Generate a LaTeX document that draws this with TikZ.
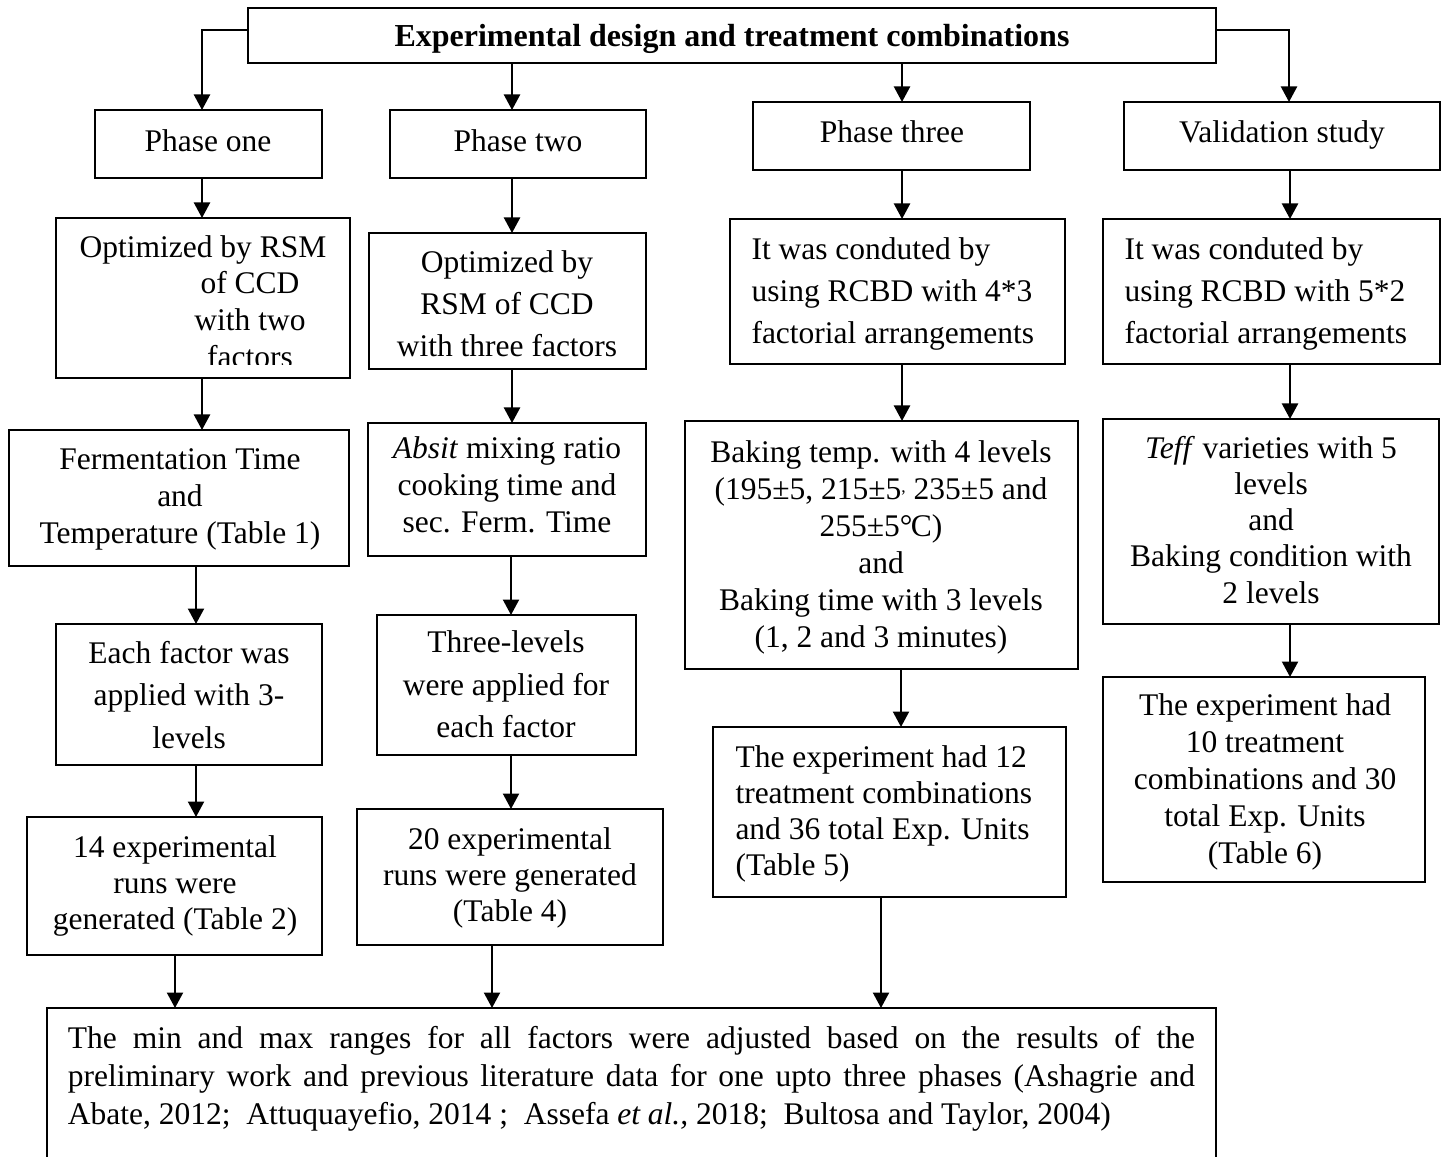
\documentclass[tikz,border=0pt]{standalone}
\usepackage{fontspec}
\setmainfont{Liberation Serif}
\usetikzlibrary{arrows.meta}
\newcommand\flowbox[5]{\node[box,minimum width={(#4-#2)*0.4pt},minimum height={(#5-#3)*0.4pt}] (#1) at (#2,#3) {};}
\begin{document}
\begin{tikzpicture}[x=0.4pt,y=-0.4pt,
  box/.style={draw,line width=0.8pt,inner sep=0pt,outer sep=0pt,anchor=north west},
  txt/.style={font=\fontsize{12.6}{14.8}\selectfont,align=center,inner sep=0pt},
  txtw/.style={font=\fontsize{12.6}{16.8}\selectfont,align=center,inner sep=0pt},
  arr/.style={line width=0.9pt,-{Triangle[length=6.2pt,width=6.4pt]}}]
\useasboundingbox (0,0) rectangle (1444,1157);
\clip (0,0) rectangle (1444,1157);
\fill[white] (0,0) rectangle (1444,1157);
% boxes
\flowbox{t}{248}{8}{1216}{63}
\flowbox{p1}{95}{110}{322}{178}
\flowbox{p2}{390}{110}{646}{178}
\flowbox{p3}{753}{102}{1030}{170}
\flowbox{pv}{1124}{102}{1440}{170}
\flowbox{o1}{56}{218}{350}{378}
\flowbox{o2}{369}{233}{646}{369}
\flowbox{q3}{730}{219}{1065}{364}
\flowbox{qv}{1103}{219}{1440}{364}
\flowbox{f1}{9}{430}{349}{566}
\flowbox{f2}{368}{423}{646}{556}
\flowbox{f3}{685}{421}{1078}{669}
\flowbox{fv}{1103}{419}{1439}{624}
\flowbox{e1}{56}{624}{322}{765}
\flowbox{e2}{377}{615}{636}{755}
\flowbox{e3}{713}{727}{1066}{897}
\flowbox{ev}{1103}{677}{1425}{882}
\flowbox{r1}{27}{817}{322}{955}
\flowbox{r2}{357}{809}{663}{945}
\flowbox{B}{47}{1008}{1216}{1180}
% texts
\node[txt,anchor=base,font={\fontsize{12.8}{15}\selectfont\bfseries}] (tt) at (732,47) {Experimental design and treatment combinations};
\node[txt,anchor=base] (p1t) at (208,152) {Phase one};
\node[txt,anchor=base] (p2t) at (518,152) {Phase two};
\node[txt,anchor=base] (p3t) at (892,143) {Phase three};
\node[txt,anchor=base] (pvt) at (1282,143) {Validation study};
\node[txt,anchor=base] (o1a) at (203,258) {Optimized by RSM};
\begin{scope}
\clip (56,218) rectangle (350,365);
\node[txt] (o1b) at (250,320) {of CCD\\with two\\factors};
\end{scope}
\node[txtw] (o2t) at (507,304) {Optimized by\\RSM of CCD\\with three factors};
\node[txtw,anchor=west,align=left] (q3t) at (751,293.6) {It was conduted by\\using RCBD with 4*3\\factorial arrangements};
\node[txtw,anchor=west,align=left] (qvt) at (1124,293.6) {It was conduted by\\using RCBD with 5*2\\factorial arrangements};
\node[txt] (f1t) at (180,499.6) {Fermentation Time\\and\\Temperature (Table 1)};
\node[txt] (f2t) at (507,485) {\textit{Absit} mixing ratio\\cooking time and\\sec. Ferm. Time};
\node[txt] (f3t) at (881,547) {Baking temp. with 4 levels\\(195±5, 215±5\raisebox{0.45ex}{\scriptsize,} 235±5 and\\255±5°\kern-0.05em C)\\and\\Baking time with 3 levels\\(1, 2 and 3 minutes)};
\node[txt,font=\fontsize{12.6}{14.5}\selectfont] (fvt) at (1271,519.6) {\textit{Teff} varieties with 5\\levels\\and\\Baking condition with\\2 levels};
\node[txtw,font=\fontsize{12.6}{17}\selectfont] (e1t) at (189,694.6) {Each factor was\\applied with 3-\\levels};
\node[txtw,font=\fontsize{12.6}{17}\selectfont] (e2t) at (506,684.6) {Three-levels\\were applied for\\each factor};
\node[txt,anchor=west,align=left,font=\fontsize{12.6}{14.5}\selectfont] (e3t) at (735,814) {The experiment had 12\\treatment combinations\\and 36 total Exp. Units\\(Table 5)};
\node[txt] (evt) at (1265,781.6) {The experiment had\\10 treatment\\combinations and 30\\total Exp. Units\\(Table 6)};
\node[txt,font=\fontsize{12.6}{14.4}\selectfont] (r1t) at (175,885.6) {14 experimental\\runs were\\generated (Table 2)};
\node[txt,font=\fontsize{12.6}{14.4}\selectfont] (r2t) at (510,877.6) {20 experimental\\runs were generated\\(Table 4)};
\node[inner sep=0pt,font=\fontsize{12.6}{15.2}\selectfont] (Bt) at (631.5,1078.6) {\parbox{450.8pt}{%
\hbox to\hsize{The min and max ranges for all factors were adjusted based on the results of the}%
\hbox to\hsize{preliminary work and previous literature data for one upto three phases (Ashagrie and}%
\hbox{Abate, 2012;\ \ Attuquayefio, 2014 ;\ \ Assefa \textit{et al.,} 2018;\ \ Bultosa and Taylor, 2004)}}};
% connectors
\coordinate (kl) at (202,30);
\coordinate (kr) at (1289,30);
\coordinate (a1) at (202,0);
\coordinate (b1) at (196,0);
\coordinate (d1) at (175,0);
\coordinate (a2) at (512,0);
\coordinate (b2) at (511,0);
\coordinate (d2) at (492,0);
\coordinate (a3) at (902,0);
\coordinate (b3) at (901,0);
\coordinate (d3) at (881,0);
\coordinate (a4) at (1290,0);
\draw[arr] (t.west |- kl) -- (kl) -- (p1.north -| kl);
\draw[arr] (t.east |- kr) -- (kr) -- (pv.north -| kr);
\draw[arr] (t.south -| a2) -- (p2.north -| a2);
\draw[arr] (t.south -| a3) -- (p3.north -| a3);
\draw[arr] (p1.south -| a1) -- (o1.north -| a1);
\draw[arr] (o1.south -| a1) -- (f1.north -| a1);
\draw[arr] (f1.south -| b1) -- (e1.north -| b1);
\draw[arr] (e1.south -| b1) -- (r1.north -| b1);
\draw[arr] (r1.south -| d1) -- (B.north -| d1);
\draw[arr] (p2.south -| a2) -- (o2.north -| a2);
\draw[arr] (o2.south -| a2) -- (f2.north -| a2);
\draw[arr] (f2.south -| b2) -- (e2.north -| b2);
\draw[arr] (e2.south -| b2) -- (r2.north -| b2);
\draw[arr] (r2.south -| d2) -- (B.north -| d2);
\draw[arr] (p3.south -| a3) -- (q3.north -| a3);
\draw[arr] (q3.south -| a3) -- (f3.north -| a3);
\draw[arr] (f3.south -| b3) -- (e3.north -| b3);
\draw[arr] (e3.south -| d3) -- (B.north -| d3);
\draw[arr] (pv.south -| a4) -- (qv.north -| a4);
\draw[arr] (qv.south -| a4) -- (fv.north -| a4);
\draw[arr] (fv.south -| a4) -- (ev.north -| a4);
\end{tikzpicture}
\end{document}
